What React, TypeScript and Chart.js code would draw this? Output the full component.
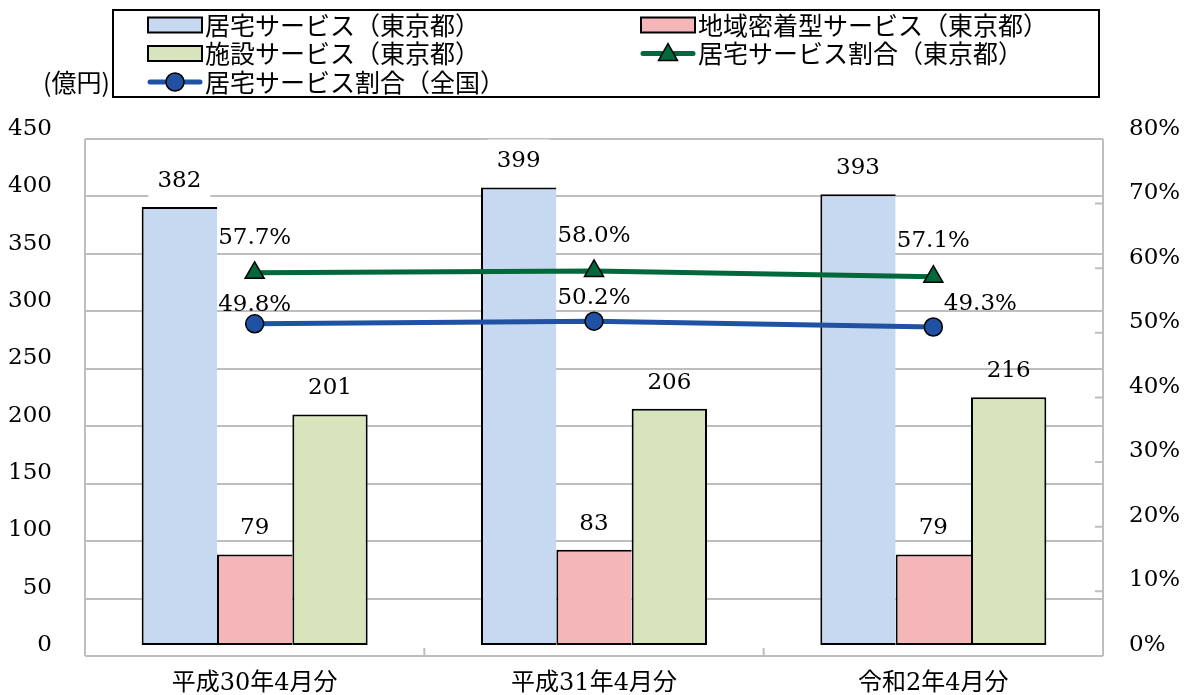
import React, { useEffect, useRef } from 'react';
import { Chart, registerables } from 'chart.js';

Chart.register(...registerables);

// ---- data ----
const categories = ['平成30年4月分', '平成31年4月分', '令和2年4月分'];
const homeServiceTokyo = [382, 399, 393];
const communityServiceTokyo = [79, 83, 79];
const facilityServiceTokyo = [201, 206, 216];
const homeShareTokyo = [0.577, 0.58, 0.571];
const homeShareNational = [0.498, 0.502, 0.493];
const leftTickValues = [0, 50, 100, 150, 200, 250, 300, 350, 400, 450];
const rightTickValues = [0, 0.1, 0.2, 0.3, 0.4, 0.5, 0.6, 0.7, 0.8];
const unitLabel = '(億円)';

// ---- styles ----
const NUM_FONT = '"DejaVu Serif", serif';
const JP_FONT = '"Noto Sans CJK JP", sans-serif';
const CAT_FONT = '"DejaVu Serif", "Noto Sans CJK JP", serif';
const GRID = '#BEBEBE';
const BLUE_BAR = '#C6D9F0';
const PINK_BAR = '#F5B6BA';
const GREEN_BAR = '#D8E4BC';
const GREEN_LINE = '#00683A';
const BLUE_LINE = '#2051A3';

const greenLabelOffsets = [[0, -35], [0, -35], [0, -36]];
const blueLabelOffsets = [[0, -19], [0, -23], [47, -23]];

const keepTicks = (values: number[]) => (scale: any) => {
  scale.ticks = values.map((v) => ({ value: v }));
};

const noPad = (s: any) => {
  s.paddingTop = 0;
  s.paddingBottom = 0;
  s.paddingLeft = 0;
  s.paddingRight = 0;
};

const framePlugin = {
  id: 'frame',
  beforeDatasetsDraw(chart: any) {
    const { ctx, chartArea, scales } = chart;
    const g = scales.yGrid;
    const top = g.getPixelForValue(450);
    const bottom = g.getPixelForValue(0);
    ctx.save();
    ctx.strokeStyle = GRID;
    ctx.lineWidth = 2;
    ctx.beginPath();
    ctx.moveTo(chartArea.left, top);
    ctx.lineTo(chartArea.left, bottom);
    ctx.moveTo(chartArea.right, top);
    ctx.lineTo(chartArea.right, bottom);
    for (let k = 1; k < 8; k++) {
      const y = g.getPixelForValue((450 * k) / 8);
      ctx.moveTo(chartArea.right - 8, y);
      ctx.lineTo(chartArea.right, y);
    }
    const x = scales.x;
    for (let i = 0; i < categories.length - 1; i++) {
      const bx = (x.getPixelForValue(i) + x.getPixelForValue(i + 1)) / 2;
      ctx.moveTo(bx, bottom - 8);
      ctx.lineTo(bx, bottom);
    }
    ctx.stroke();
    ctx.restore();
  },
};

const valueLabelPlugin = {
  id: 'valueLabels',
  afterDatasetsDraw(chart: any) {
    const { ctx } = chart;
    ctx.save();
    ctx.font = `23px ${NUM_FONT}`;
    ctx.textAlign = 'center';
    ctx.textBaseline = 'middle';
    chart.data.datasets.forEach((ds: any, di: number) => {
      const meta = chart.getDatasetMeta(di);
      meta.data.forEach((el: any, i: number) => {
        const v = ds.data[i];
        const isLine = ds.type === 'line';
        const text = isLine ? (v * 100).toFixed(1) + '%' : String(v);
        const off = ds.labelOffsets ? ds.labelOffsets[i] : [0, -26];
        const lx = el.x + off[0];
        const ly = el.y + off[1];
        if (ds.labelBackground) {
          const w = ctx.measureText(text).width + 18;
          ctx.fillStyle = ds.labelBackground;
          ctx.fillRect(lx - w / 2, ly - 22, w, 44);
        }
        ctx.fillStyle = '#000';
        ctx.fillText(text, lx, ly);
      });
    });
    ctx.restore();
  },
};

const legendPlugin = {
  id: 'boxLegend',
  afterDraw(chart: any) {
    const { ctx } = chart;
    ctx.save();
    ctx.strokeStyle = '#000';
    ctx.lineWidth = 2;
    ctx.strokeRect(113, 10, 986, 87);
    ctx.fillStyle = '#000';
    ctx.font = `25px ${JP_FONT}`;
    ctx.textBaseline = 'middle';
    ctx.textAlign = 'right';
    ctx.fillText(unitLabel, 110, 82);
    ctx.textAlign = 'left';
    chart.data.datasets.forEach((ds: any, i: number) => {
      const col = i % 2;
      const row = Math.floor(i / 2);
      const x0 = col === 0 ? 148 : 641;
      const y = 25 + row * 28.5;
      if (ds.type === 'line') {
        ctx.strokeStyle = ds.borderColor;
        ctx.lineWidth = 5;
        ctx.lineCap = 'round';
        ctx.beginPath();
        ctx.moveTo(x0 + 2, y);
        ctx.lineTo(x0 + 52, y);
        ctx.stroke();
        ctx.fillStyle = ds.pointBackgroundColor;
        ctx.strokeStyle = '#000';
        ctx.lineWidth = 1.5;
        ctx.beginPath();
        if (ds.pointStyle === 'triangle') {
          ctx.moveTo(x0 + 27, y - 10);
          ctx.lineTo(x0 + 36.5, y + 7);
          ctx.lineTo(x0 + 17.5, y + 7);
          ctx.closePath();
        } else {
          ctx.arc(x0 + 27, y, 9, 0, Math.PI * 2);
        }
        ctx.fill();
        ctx.stroke();
      } else {
        ctx.fillStyle = ds.backgroundColor;
        ctx.fillRect(x0, y - 7.5, 54, 15);
        ctx.strokeStyle = '#000';
        ctx.lineWidth = 2;
        ctx.strokeRect(x0, y - 7.5, 54, 15);
      }
      ctx.fillStyle = '#000';
      ctx.font = `25px ${JP_FONT}`;
      ctx.fillText(ds.label, x0 + 57, y);
    });
    ctx.restore();
  },
};

export default function App() {
  const canvasRef = useRef<HTMLCanvasElement>(null);

  useEffect(() => {
    const canvas = canvasRef.current;
    if (!canvas) return;
    const barBase = {
      type: 'bar',
      yAxisID: 'y',
      borderColor: '#000',
      borderSkipped: false,
      order: 2,
      categoryPercentage: 0.666,
      barPercentage: 1.0,
    };
    const chart = new Chart(canvas, {
      type: 'bar',
      data: {
        labels: categories,
        datasets: [
          {
            ...barBase,
            label: '居宅サービス（東京都）',
            data: homeServiceTokyo,
            backgroundColor: BLUE_BAR,
            borderWidth: { top: 2, bottom: 2, left: 2, right: 0 },
            labelBackground: '#ffffff',
          },
          {
            ...barBase,
            label: '地域密着型サービス（東京都）',
            data: communityServiceTokyo,
            backgroundColor: PINK_BAR,
            borderWidth: { top: 2, bottom: 2, left: 2, right: 0 },
          },
          {
            ...barBase,
            label: '施設サービス（東京都）',
            data: facilityServiceTokyo,
            backgroundColor: GREEN_BAR,
            borderWidth: { top: 2, bottom: 2, left: 2, right: 2 },
          },
          {
            type: 'line',
            label: '居宅サービス割合（東京都）',
            data: homeShareTokyo,
            yAxisID: 'yR',
            order: 1,
            borderColor: GREEN_LINE,
            borderWidth: 5,
            pointStyle: 'triangle',
            pointRadius: 11,
            pointBackgroundColor: GREEN_LINE,
            pointBorderColor: '#000',
            pointBorderWidth: 1.5,
            labelOffsets: greenLabelOffsets,
          },
          {
            type: 'line',
            label: '居宅サービス割合（全国）',
            data: homeShareNational,
            yAxisID: 'yR',
            order: 1,
            borderColor: BLUE_LINE,
            borderWidth: 5,
            pointStyle: 'circle',
            pointRadius: 9,
            pointBackgroundColor: BLUE_LINE,
            pointBorderColor: '#000',
            pointBorderWidth: 1.5,
            labelOffsets: blueLabelOffsets,
          },
        ] as any,
      },
      options: {
        animation: false,
        responsive: false,
        maintainAspectRatio: false,
        layout: { padding: { top: 129, left: 0, right: 0, bottom: 0 } },
        plugins: {
          legend: { display: false },
          tooltip: { enabled: false },
        },
        scales: {
          x: {
            type: 'category',
            offset: true,
            grid: { display: false, drawTicks: false },
            border: { display: false },
            ticks: {
              color: '#000',
              font: { family: CAT_FONT, size: 24 },
              padding: 13,
              maxRotation: 0,
            },
            afterFit: (s: any) => {
              s.height = 39;
              noPad(s);
            },
          },
          y: {
            type: 'linear',
            position: 'left',
            min: -9.593,
            max: 450,
            afterBuildTicks: keepTicks(leftTickValues),
            grid: { display: false, drawTicks: false },
            border: { display: false },
            ticks: {
              color: '#000',
              font: { family: NUM_FONT, size: 23 },
              padding: 33,
            },
            afterFit: (s: any) => {
              s.width = 85;
              noPad(s);
            },
          },
          yGrid: {
            type: 'linear',
            position: 'left',
            min: 0,
            max: 458.7,
            afterBuildTicks: keepTicks(leftTickValues),
            grid: { color: GRID, lineWidth: 2, drawTicks: false },
            border: { display: false },
            ticks: { display: false },
            afterFit: (s: any) => {
              s.width = 0;
              noPad(s);
            },
          },
          yR: {
            type: 'linear',
            position: 'right',
            min: -0.017054,
            max: 0.8,
            afterBuildTicks: keepTicks(rightTickValues),
            grid: { display: false, drawTicks: false },
            border: { display: false },
            ticks: {
              color: '#000',
              font: { family: NUM_FONT, size: 23 },
              padding: 26,
              callback: (v: any) => Math.round(Number(v) * 100) + '%',
            },
            afterFit: (s: any) => {
              s.width = 86;
              noPad(s);
            },
          },
        },
      } as any,
      plugins: [framePlugin, valueLabelPlugin, legendPlugin],
    });
    return () => chart.destroy();
  }, []);

  return (
    <div style={{ position: 'fixed', left: 0, top: 0, width: 1189, height: 695, background: '#fff' }}>
      <canvas ref={canvasRef} width={1189} height={695} style={{ width: 1189, height: 695 }} />
    </div>
  );
}
